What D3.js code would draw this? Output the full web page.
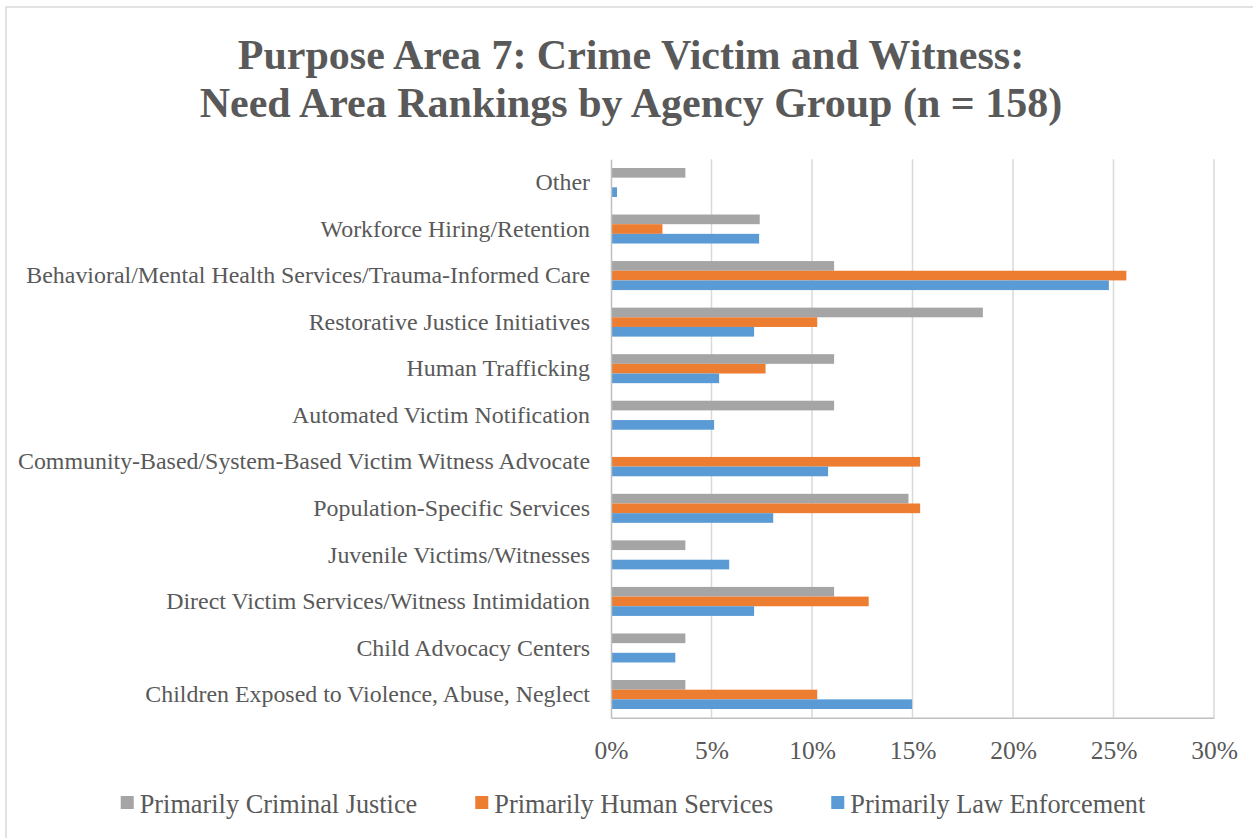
<!DOCTYPE html>
<html>
<head>
<meta charset="utf-8">
<script src="https://cdn.jsdelivr.net/npm/d3@7"></script>
<style>
  body { margin: 0; background: #fff; }
  text { font-family: "Liberation Serif", "Times New Roman", serif; fill: #595959; }
</style>
</head>
<body>
<div id="chart"></div>
<script>
const globalWidth = 1253;
const globalHeight = 838;

// categories, top to bottom
const categories = [
  "Other",
  "Workforce Hiring/Retention",
  "Behavioral/Mental Health Services/Trauma-Informed Care",
  "Restorative Justice Initiatives",
  "Human Trafficking",
  "Automated Victim Notification",
  "Community-Based/System-Based Victim Witness Advocate",
  "Population-Specific Services",
  "Juvenile Victims/Witnesses",
  "Direct Victim Services/Witness Intimidation",
  "Child Advocacy Centers",
  "Children Exposed to Violence, Abuse, Neglect"
];

const seriesNames = ["Primarily Criminal Justice", "Primarily Human Services", "Primarily Law Enforcement"];
const seriesColors = ["#a5a5a5", "#ed7d31", "#5b9bd5"];

// percent values, same order as categories
const criminalJustice = [3.7, 7.4, 11.1, 18.5, 11.1, 11.1, 0, 14.8, 3.7, 11.1, 3.7, 3.7];
const humanServices   = [0, 2.56, 25.64, 10.26, 7.69, 0, 15.38, 15.38, 0, 12.82, 0, 10.26];
const lawEnforcement  = [0.3, 7.37, 24.77, 7.12, 5.38, 5.13, 10.8, 8.07, 5.88, 7.12, 3.2, 14.98];

const tickValues = [0, 0.05, 0.10, 0.15, 0.20, 0.25, 0.30];

const allSeries = [criminalJustice, humanServices, lawEnforcement];

const svg = d3.select("#chart")
  .append("svg")
  .attr("width", globalWidth)
  .attr("height", globalHeight);

// outer chart border (runs off right/bottom edge like the original)
svg.append("rect")
  .attr("x", 6).attr("y", 7)
  .attr("width", globalWidth + 10).attr("height", globalHeight + 10)
  .attr("fill", "none")
  .attr("stroke", "#d9d9d9")
  .attr("stroke-width", 1.5);

// title
const title = svg.append("text")
  .attr("text-anchor", "middle")
  .style("font-size", "42px")
  .style("font-weight", "bold");
title.append("tspan").attr("x", 631).attr("y", 69).text("Purpose Area 7: Crime Victim and Witness:");
title.append("tspan").attr("x", 631).attr("y", 117).text("Need Area Rankings by Agency Group (n = 158)");

const plot = {left: 611, right: 1214, top: 159.2, bottom: 717.8};

var x = d3.scaleLinear()
  .domain([0, 0.30])
  .range([plot.left, plot.right]);

var y0 = d3.scaleBand()
  .domain(categories)
  .range([plot.top, plot.bottom])
  .paddingInner(0.377)
  .paddingOuter(0.377 / 2);

var y1 = d3.scaleBand()
  .domain(d3.range(seriesNames.length))
  .range([0, y0.bandwidth()]);

// gridlines
svg.append("g")
  .selectAll("line")
  .data(tickValues.slice(1))
  .enter()
  .append("line")
    .attr("x1", d => x(d)).attr("x2", d => x(d))
    .attr("y1", plot.top).attr("y2", plot.bottom)
    .attr("stroke", "#d9d9d9")
    .attr("stroke-width", 1.5);

// bars
const groups = svg.append("g")
  .selectAll("g")
  .data(categories)
  .enter()
  .append("g")
    .attr("transform", d => "translate(0," + y0(d) + ")");

groups.selectAll("rect")
  .data((d, i) => allSeries.map((s, k) => ({k: k, v: s[i] / 100})))
  .enter()
  .filter(d => d.v > 0)
  .append("rect")
    .attr("x", x(0))
    .attr("y", d => y1(d.k))
    .attr("width", d => x(d.v) - x(0))
    .attr("height", y1.bandwidth())
    .attr("fill", d => seriesColors[d.k]);

// X axis
const xAxis = svg.append("g")
  .attr("transform", "translate(0," + plot.bottom + ")")
  .call(d3.axisBottom(x)
    .tickValues(tickValues)
    .tickFormat(d3.format(".0%"))
    .tickSize(0)
    .tickSizeOuter(0)
    .tickPadding(23));
xAxis.select(".domain").attr("stroke", "#bfbfbf").attr("stroke-width", 1.5);
xAxis.selectAll("text")
  .style("font-size", "25.5px")
  .style("font-family", "'Liberation Serif', 'Times New Roman', serif")
  .attr("fill", "#595959");

// Y axis
const yAxis = svg.append("g")
  .attr("transform", "translate(" + plot.left + ",0)")
  .call(d3.axisLeft(y0)
    .tickSize(0)
    .tickSizeOuter(0)
    .tickPadding(21));
yAxis.select(".domain").attr("stroke", "#bfbfbf").attr("stroke-width", 1.5);
yAxis.selectAll("text")
  .style("font-size", "23.9px")
  .style("font-family", "'Liberation Serif', 'Times New Roman', serif")
  .attr("fill", "#595959");

// legend
const legend = svg.append("g");
const items = legend.selectAll("g")
  .data(seriesNames)
  .enter()
  .append("g");
items.append("rect")
  .attr("width", 13).attr("height", 13)
  .attr("y", 796)
  .attr("fill", (d, i) => seriesColors[i]);
items.append("text")
  .attr("x", 19)
  .attr("y", 813)
  .style("font-size", "26.3px")
  .text(d => d);

// lay out legend items side by side, centred
let widths = [];
items.each(function() { widths.push(19 + this.querySelector("text").getComputedTextLength()); });
const gap = 58;
const total = d3.sum(widths) + gap * (widths.length - 1);
let cx = 633 - total / 2;
items.attr("transform", function(d, i) {
  const t = "translate(" + cx + ",0)";
  cx += widths[i] + gap;
  return t;
});
</script>
</body>
</html>
